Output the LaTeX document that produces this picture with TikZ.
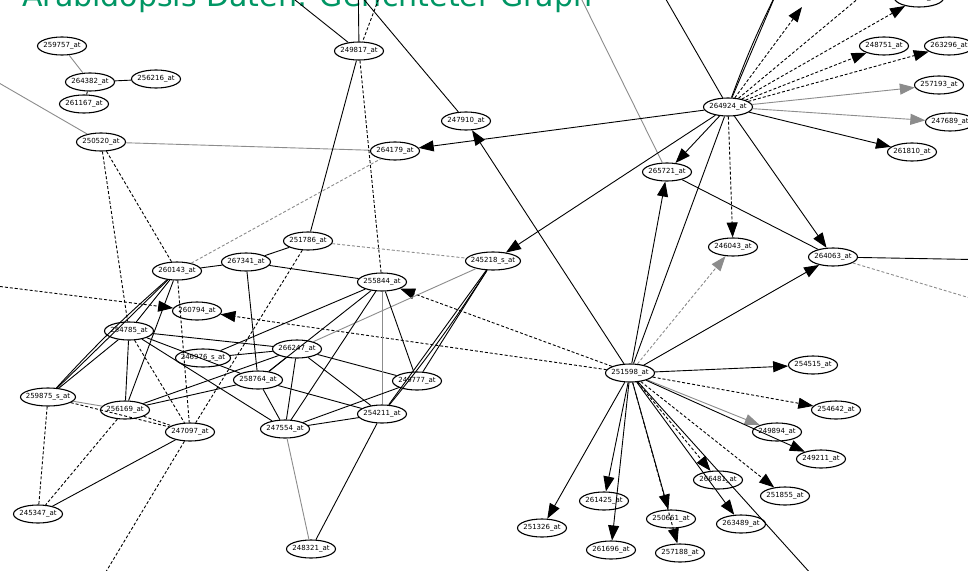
\documentclass[tikz,border=0pt]{standalone}
\usepackage{fontspec}
\setmainfont{DejaVu Sans}
\usepackage{tikz}
\usetikzlibrary{shapes.geometric, arrows.meta}
\definecolor{titlegreen}{RGB}{0,150,100}

\begin{document}
\begin{tikzpicture}[x=1pt, y=-1pt,
    gene/.style={ellipse, draw, line width=1.1pt, minimum width=49pt, minimum height=18pt,
      inner xsep=-8pt, inner ysep=0pt, font=\fontsize{7}{8}\selectfont},
    wide/.style={gene, minimum width=55pt},
    edge/.style={line width=0.9pt},
    grey/.style={edge, black!45},
    dsh/.style={edge, dash pattern=on 3pt off 2pt},
    gdsh/.style={dsh, black!45},
    arr/.style={edge, -{Triangle[length=15pt, width=11pt]}},
    garr/.style={arr, black!45},
    darr/.style={dsh, -{Triangle[length=15pt, width=11pt]}},
    gdarr/.style={gdsh, -{Triangle[length=15pt, width=11pt]}}]
  \useasboundingbox (0, 0) rectangle (968, 570);
  \clip (0, 0) rectangle (968, 570);
  \fill [white] (0, 0) rectangle (968, 570);

  \node [anchor=base west, inner sep=0pt, text=titlegreen, font=\fontsize{30}{36}\selectfont] (title) at (22, 6) {Arabidopsis Daten: Gerichteter Graph};

  \node [gene] (n259757) at (62, 46) {259757\_at};
  \node [gene] (n264382) at (90, 82) {264382\_at};
  \node [gene] (n256216) at (156, 79) {256216\_at};
  \node [gene] (n261167) at (84, 104) {261167\_at};
  \node [gene] (n250520) at (101, 142) {250520\_at};
  \node [gene] (n249817) at (359, 51) {249817\_at};
  \node [gene] (n247910) at (466, 121) {247910\_at};
  \node [gene] (n264179) at (395, 151) {264179\_at};
  \node [gene] (n264924) at (728, 107) {264924\_at};
  \node [gene] (n248751) at (884, 46) {248751\_at};
  \node [gene] (n263296) at (949, 46) {263296\_at};
  \node [gene] (n257193) at (939, 85) {257193\_at};
  \node [gene] (n247689) at (950, 122) {247689\_at};
  \node [gene] (n261810) at (912, 152) {261810\_at};
  \node [gene] (n264201) at (919, -2) {264201\_at};
  \node [gene] (n265721) at (667, 172) {265721\_at};
  \node [gene] (n246043) at (733, 247) {246043\_at};
  \node [gene] (n264063) at (833, 257) {264063\_at};
  \node [gene] (n254515) at (813, 365) {254515\_at};
  \node [gene] (n251598) at (630, 373) {251598\_at};
  \node [wide] (n245218) at (493, 261) {245218\_s\_at};
  \node [gene] (n255844) at (382, 282) {255844\_at};
  \node [gene] (n251786) at (308, 241) {251786\_at};
  \node [gene] (n267341) at (246, 262) {267341\_at};
  \node [gene] (n260143) at (177, 271) {260143\_at};
  \node [gene] (n260794) at (197, 311) {260794\_at};
  \node [gene] (n254785) at (129, 331) {254785\_at};
  \node [wide] (n246976) at (203, 358) {246976\_s\_at};
  \node [gene] (n266247) at (297, 349) {266247\_at};
  \node [gene] (n258764) at (258, 380) {258764\_at};
  \node [gene] (n249777) at (417, 381) {249777\_at};
  \node [gene] (n254211) at (382, 414) {254211\_at};
  \node [gene] (n247554) at (285, 429) {247554\_at};
  \node [wide] (n259875) at (48, 397) {259875\_s\_at};
  \node [gene] (n256169) at (125, 410) {256169\_at};
  \node [gene] (n247097) at (190, 432) {247097\_at};
  \node [gene] (n245347) at (38, 514) {245347\_at};
  \node [gene] (n248321) at (311, 549) {248321\_at};
  \node [gene] (n251326) at (542, 528) {251326\_at};
  \node [gene] (n261425) at (604, 501) {261425\_at};
  \node [gene] (n261696) at (611, 550) {261696\_at};
  \node [gene] (n250661) at (671, 519) {250661\_at};
  \node [gene] (n257188) at (680, 553) {257188\_at};
  \node [gene] (n266481) at (718, 480) {266481\_at};
  \node [gene] (n263489) at (741, 524) {263489\_at};
  \node [gene] (n251855) at (785, 496) {251855\_at};
  \node [gene] (n249211) at (821, 459) {249211\_at};
  \node [gene] (n249894) at (777, 432) {249894\_at};
  \node [gene] (n254642) at (836, 410) {254642\_at};

  \coordinate (left1) at (-20, 72);
  \coordinate (left2) at (-20, 284);
  \coordinate (bottom1) at (95, 590);
  \coordinate (bottom2) at (830, 595);
  \coordinate (right1) at (1000, 260);
  \coordinate (right2) at (1000, 307);
  \coordinate (top1) at (358, -30);
  \coordinate (top2) at (382, -10);
  \coordinate (top3) at (290, -4);
  \coordinate (top4) at (356, -10);
  \coordinate (top5) at (578, -8);
  \coordinate (top6) at (664, -4);
  \coordinate (top7) at (776, -6);
  \coordinate (top8) at (802, 7);
  \coordinate (top9) at (860, -3);

  \draw [grey] (n259757) -- (n264382);
  \draw [edge] (n264382) -- (n256216);
  \draw [edge] (n264382) -- (n261167);
  \draw [grey] (left1) -- (n250520);
  \draw [grey] (n250520) -- (n264179);
  \draw [dsh] (n250520) -- (n254785);
  \draw [dsh] (n250520) -- (n260143);
  \draw [edge] (top1) -- (n249817);
  \draw [dsh] (top2) -- (n249817);
  \draw [edge] (top3) -- (n249817);
  \draw [edge] (top4) -- (n247910);
  \draw [edge] (n249817) -- (n251786);
  \draw [dsh] (n249817) -- (n255844);
  \draw [grey] (top5) -- (n265721);

  \draw [arr] (n264924) -- (n264179);
  \draw [arr] (n251598) -- (n247910);
  \draw [arr] (n264924) -- (n245218);
  \draw [arr] (n264924) -- (n265721);
  \draw [arr] (n264924) -- (n264063);
  \draw [arr] (n264924) -- (n261810);
  \draw [garr] (n264924) -- (n257193);
  \draw [garr] (n264924) -- (n247689);
  \draw [darr] (n264924) -- (n246043);
  \draw [darr] (n264924) -- (n248751);
  \draw [darr] (n264924) -- (n263296);
  \draw [darr] (n264924) -- (n264201);
  \draw [darr] (n264924) -- (top8);
  \draw [dsh] (n264924) -- (top9);
  \draw [edge] (n264924) -- (top6);
  \draw [edge] (n264924) -- (top7);
  \draw [edge] (n264924) to [bend left=3] (top7);
  \draw [edge] (n264924) -- (n251598);
  \draw [edge] (n265721) -- (n264063);
  \draw [edge] (n264063) -- (right1);
  \draw [gdsh] (n264063) -- (right2);

  \draw [arr] (n251598) -- (n265721);
  \draw [arr] (n251598) -- (n264063);
  \draw [gdarr] (n251598) -- (n246043);
  \draw [arr] (n251598) -- (n254515);
  \draw [darr] (n251598) -- (n254642);
  \draw [garr] (n251598) -- (n249894);
  \draw [arr] (n251598) -- (n249211);
  \draw [darr] (n251598) -- (n251855);
  \draw [darr] (n251598) -- (n266481);
  \draw [arr] (n251598) -- (n263489);
  \draw [edge] (n251598) -- (bottom2);
  \draw [arr] (n251598) -- (n250661);
  \draw [darr] (n251598) -- (n257188);
  \draw [arr] (n251598) -- (n261425);
  \draw [arr] (n251598) -- (n261696);
  \draw [arr] (n251598) -- (n251326);
  \draw [darr] (n251598) -- (n255844);
  \draw [darr] (n251598) -- (n260794);
  \draw [darr] (left2) -- (n260794);

  \draw [edge] (n245218) -- (n254211);
  \draw [edge] (n245218) to [bend left=3] (n254211);
  \draw [edge] (n245218) -- (n249777);
  \draw [grey] (n245218) -- (n266247);
  \draw [gdsh] (n251786) -- (n245218);
  \draw [gdsh] (n260143) -- (n264179);

  \draw [edge] (n260143) -- (n267341);
  \draw [edge] (n267341) -- (n251786);
  \draw [edge] (n267341) -- (n255844);
  \draw [edge] (n267341) -- (n258764);
  \draw [edge] (n260143) -- (n259875);
  \draw [edge] (n260143) to [bend right=3] (n259875);
  \draw [edge] (n260143) -- (n254785);
  \draw [edge] (n260143) -- (n256169);
  \draw [edge] (n254785) -- (n256169);
  \draw [edge] (n254785) -- (n259875);
  \draw [edge] (n254785) -- (n266247);
  \draw [edge] (n254785) -- (n247554);
  \draw [edge] (n254785) -- (n258764);
  \draw [edge] (n246976) -- (n266247);
  \draw [edge] (n246976) -- (n255844);
  \draw [edge] (n266247) -- (n256169);
  \draw [edge] (n258764) -- (n256169);
  \draw [edge] (n266247) -- (n258764);
  \draw [edge] (n266247) -- (n247554);
  \draw [edge] (n266247) -- (n254211);
  \draw [edge] (n266247) -- (n249777);
  \draw [edge] (n255844) -- (n258764);
  \draw [edge] (n255844) -- (n247554);
  \draw [edge] (n255844) -- (n249777);
  \draw [grey] (n255844) -- (n254211);
  \draw [edge] (n258764) -- (n247554);
  \draw [edge] (n258764) -- (n254211);
  \draw [edge] (n247554) -- (n254211);
  \draw [edge] (n247554) -- (n249777);
  \draw [grey] (n247554) -- (n248321);
  \draw [edge] (n254211) -- (n248321);

  \draw [dsh] (n251786) -- (n247097);
  \draw [dsh] (n260143) -- (n247097);
  \draw [dsh] (n254785) -- (n247097);
  \draw [grey] (n259875) -- (n256169);
  \draw [dsh] (n259875) -- (n247097);
  \draw [dsh] (n256169) -- (n247097);
  \draw [dsh] (n259875) -- (n245347);
  \draw [dsh] (n256169) -- (n245347);
  \draw [edge] (n247097) -- (n245347);
  \draw [dsh] (n247097) -- (bottom1);
\end{tikzpicture}
\end{document}
